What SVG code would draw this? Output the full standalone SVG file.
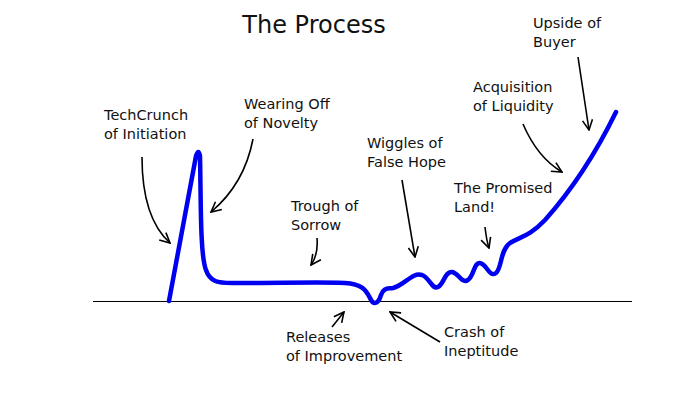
<svg xmlns="http://www.w3.org/2000/svg" width="698" height="400" viewBox="0 0 698 400">
<defs>
<style>
text{font-family:"DejaVu Sans","Noto Sans",sans-serif;fill:#111;}
.lbl{font-size:14.5px;}
.title{font-size:24px;}
.arr{fill:none;stroke:#000;stroke-width:1.6;marker-end:url(#ah);}
.curve{fill:none;stroke:#0000f0;stroke-width:4.5;stroke-linecap:round;stroke-linejoin:round;}
</style>
<marker id="ah" viewBox="0 0 12 12" refX="11" refY="6" markerWidth="12" markerHeight="12" markerUnits="userSpaceOnUse" orient="auto">
<path d="M1,1 L11,6 L1,11" fill="none" stroke="#000" stroke-width="1.6"/>
</marker>
</defs>
<rect width="698" height="400" fill="#fff"/>
<text class="title" x="314" y="33" text-anchor="middle">The Process</text>
<g id="axis"><line x1="93" y1="301.5" x2="632" y2="301.5" stroke="#000" stroke-width="1"/></g>
<g id="curve"><path class="curve" d="M169,301 L196,156 Q198.5,148 200,156 C201,200 200,255 206,270 C210,282 218,283 232,283 C280,283 330,282 345,283 C362,284 366,290 370,298 C373,305 378,305 381,295 C384,287 388,289 393,288 C405,285 412,272 422,275 C430,278 432,290 438,287 C444,284 445,271 452,272 C459,273 461,284 468,280 C474,276 474,262 480,263 C487,264 489,278 496,273 C502,268 500,250 510,243 C520,237 530,236 545,220 C570,192 595,155 616,112"/></g>
<g id="labels">
<g id="techcrunch"><text class="lbl" x="104" y="120">TechCrunch</text><text class="lbl" x="104" y="139">of Initiation</text></g>
<g id="wearing"><text class="lbl" x="244" y="109">Wearing Off</text><text class="lbl" x="244" y="128">of Novelty</text></g>
<g id="trough"><text class="lbl" x="291" y="211">Trough of</text><text class="lbl" x="291" y="230">Sorrow</text></g>
<g id="wiggles"><text class="lbl" x="367" y="148">Wiggles of</text><text class="lbl" x="367" y="167">False Hope</text></g>
<g id="promised"><text class="lbl" x="454" y="193">The Promised</text><text class="lbl" x="454" y="212">Land!</text></g>
<g id="releases"><text class="lbl" x="286" y="342">Releases</text><text class="lbl" x="286" y="361">of Improvement</text></g>
<g id="crash"><text class="lbl" x="444" y="337">Crash of</text><text class="lbl" x="444" y="356">Ineptitude</text></g>
<g id="upside"><text class="lbl" x="533" y="28">Upside of</text><text class="lbl" x="533" y="47">Buyer</text></g>
<g id="acquisition"><text class="lbl" x="473" y="92">Acquisition</text><text class="lbl" x="473" y="111">of Liquidity</text></g>
</g>
<g id="connectors">
<path class="arr" d="M142,157 C142,195 150,225 170,243"/>
<path class="arr" d="M253,139 C248,165 235,192 211,212"/>
<path class="arr" d="M317,238 C318,250 316,258 311,265"/>
<path class="arr" d="M402,180 L415,257"/>
<path class="arr" d="M485,227 C486,236 487,242 489,248"/>
<path class="arr" d="M332,327 L344,312"/>
<path class="arr" d="M440,342 L390,312"/>
<path class="arr" d="M578,57 L589,130"/>
<path class="arr" d="M523,124 C532,145 545,162 562,172"/>
</g>
</svg>
